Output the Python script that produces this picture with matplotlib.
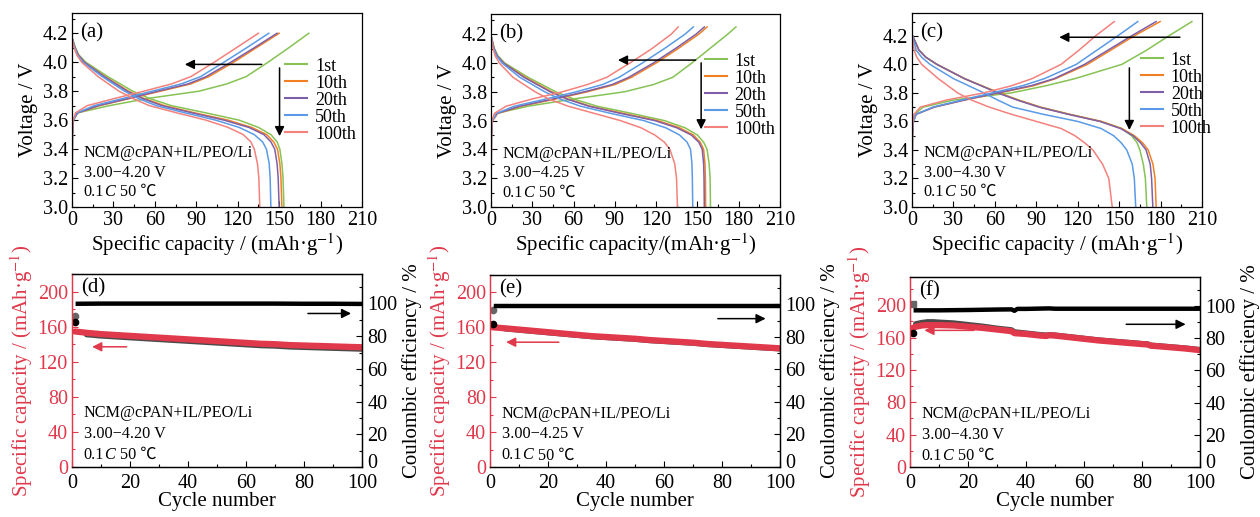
import matplotlib.pyplot as plt
from matplotlib.ticker import MultipleLocator
from matplotlib.lines import Line2D
from matplotlib.offsetbox import TextArea, HPacker, VPacker, AnnotationBbox
from matplotlib.transforms import ScaledTranslation

plt.rcParams['font.family'] = ['Liberation Serif', 'DejaVu Serif', 'DejaVu Sans']
plt.rcParams['mathtext.fontset'] = 'stix'
plt.rcParams['xtick.direction'] = 'in'
plt.rcParams['ytick.direction'] = 'in'
plt.rcParams['axes.linewidth'] = 0.9

# ---- charge / discharge curves (top row) ----
labels = ['1st', '10th', '20th', '50th', '100th']
colors = ['#86c254', '#f28022', '#7e5fa8', '#5a9ae6', '#f3817c']

# discharge: capacity at which each voltage is reached
dis_v = [4.1, 4.05, 4.0, 3.9, 3.8, 3.75, 3.7, 3.65, 3.6, 3.55, 3.5, 3.45, 3.4, 3.3, 3.2, 3.0]
dis_a = [[2.5, 5, 10, 26, 44, 56, 72, 97, 121, 135, 144, 148.5, 150.5, 152, 152.8, 153.5],
         [2.2, 4.5, 9, 24, 41, 52, 67, 89, 113, 130, 141, 146, 148.8, 150.5, 151.3, 152],
         [2.2, 4.5, 9, 23.5, 40, 51, 65, 87, 110, 128, 139, 144, 146.8, 148.5, 149.3, 150],
         [2, 4, 8, 22, 38, 48, 61, 82, 104, 121, 132, 138, 140.8, 142.8, 143.5, 144],
         [1.5, 3.5, 7, 19, 34, 44, 56, 76, 97, 113, 124, 129.5, 132, 134.3, 135.3, 136]]
dis_b = [[2.5, 5, 10, 27, 47, 60, 77, 102, 126, 141, 150, 154.5, 157, 158.5, 159.2, 159.5],
         [2.2, 4.5, 9, 25, 44, 56, 72, 96, 121, 137, 147, 152, 154.5, 155.5, 155.8, 156],
         [2.2, 4.5, 9, 24, 43, 55, 71, 94, 119, 135, 145.5, 151, 153.5, 154.5, 154.8, 155],
         [2, 4, 8, 21, 39, 50, 65, 87, 111, 127, 137, 142.5, 145, 146, 146.3, 146.6],
         [1.5, 3, 6, 16, 32, 42, 56, 75, 94, 109, 119, 126, 130, 133.5, 134.8, 135.5]]
dis_c = [[5, 10, 18, 38, 63, 77, 93, 114, 137, 152, 159, 163, 165, 167.5, 169, 170],
         [5, 10, 18, 38, 63, 77, 93, 114, 137, 152, 161, 167, 171, 174.5, 176, 176.8],
         [5, 10, 18, 38, 62, 76, 92, 113, 136, 151, 160, 165.5, 169.5, 172.5, 173.5, 174.4],
         [3, 7, 13, 30, 52, 62, 73, 95, 120, 137, 146, 151.5, 155.5, 159.5, 161, 162],
         [1.5, 3.5, 7, 19, 33, 43, 56, 72, 90, 108, 118, 125, 131, 138, 142.5, 145]]
dis_start = [4.17, 4.19, 4.21]

# charge: capacity at which each voltage is reached
chg_v_a = [3.0, 3.5, 3.6, 3.65, 3.7, 3.75, 3.8, 3.85, 3.9, 4.0, 4.1, 4.2]
chg_a = [[0, 0.3, 1, 4, 27, 55, 92, 112, 126, 142, 157, 171.5],
         [0, 0.3, 1, 4, 20, 42, 64, 86, 99, 117, 133.5, 150],
         [0, 0.3, 1, 4, 19, 41, 62, 84, 97, 115, 132, 148.5],
         [0, 0.3, 1, 3.5, 16, 37, 58, 79, 93, 110, 126.5, 142.5],
         [0, 0.3, 0.8, 2.5, 11, 31, 52, 72, 86, 103, 119, 135]]
chg_v_b = [3.0, 3.5, 3.6, 3.65, 3.7, 3.75, 3.8, 3.85, 3.9, 4.0, 4.1, 4.2, 4.25]
chg_b = [[0, 0.3, 1, 4, 27, 60, 97, 118, 132, 146, 159, 172, 178],
         [0, 0.3, 1, 5, 22, 47, 70, 90, 102, 120, 136, 151, 157],
         [0, 0.3, 1, 4.5, 21, 45, 68, 88, 100, 118, 134, 149, 155],
         [0, 0.3, 1, 4, 17, 40, 62, 81, 93, 110, 126, 141, 147],
         [0, 0.3, 0.8, 2.5, 11, 30, 52, 70, 84, 101, 117, 131, 136]]
chg_v_c = [3.0, 3.5, 3.6, 3.65, 3.7, 3.75, 3.8, 3.85, 3.9, 4.0, 4.1, 4.2, 4.3]
chg_c = [[0, 0.3, 0.8, 2, 8, 30, 72, 97, 118, 152, 170, 186, 202.7],
         [0, 0.3, 1, 3, 16, 38, 63, 88, 104, 127, 144, 161, 179.7],
         [0, 0.3, 1, 3, 16, 38, 62, 86, 103, 125, 142, 159, 176.8],
         [0, 0.3, 1, 3, 15, 36, 58, 80, 96, 119, 134, 149, 163.5],
         [0, 0.3, 0.7, 1.5, 6, 25, 52, 72, 87, 108, 121, 133, 146.5]]

windows = ['3.00\u22124.20 V', '3.00\u22124.25 V', '3.00\u22124.30 V']

# ---- cycling (bottom row) ----
cyc_de = [1, 5, 10, 15, 20, 25, 30, 35, 40, 45, 50, 55, 60, 65, 70, 75, 80, 85, 90, 95, 100]
dchg_d = [154.5, 153, 151.5, 150.5, 149.5, 148.5, 147.5, 146.5, 145.5, 144.5, 143.5,
          142.5, 141.5, 140.5, 140, 139, 138.5, 138, 137.5, 137, 136.5]
chg_d = [152.5, 151, 149.5, 148.5, 147.5, 146.5, 145.5, 144.5, 143.5, 142.5, 141.5,
         140.5, 139.5, 138.5, 138, 137, 136.5, 136, 135.5, 135, 134.5]
dchg_e = [160, 159, 157.5, 156, 154.5, 153, 151.5, 150, 149, 148, 147,
          145.5, 144.5, 143.5, 142.5, 141, 140, 139, 138, 137, 136]
chg_e = [159.5, 158.5, 157, 155.5, 154, 152.5, 151, 149.5, 148.5, 147.5, 146.5,
         145, 144, 143, 142, 140.5, 139.5, 138.5, 137.5, 136.5, 135.5]
cyc_f = [1, 2, 4, 6, 8, 10, 15, 20, 25, 30, 35, 36, 40, 45, 47, 48, 50, 55, 60, 65,
         70, 75, 80, 82, 83, 85, 90, 95, 100]
dchg_f = [172, 173.5, 175, 175.5, 175.5, 175.5, 175, 173.5, 172, 170, 168, 165.5, 164.5,
          162.5, 162, 163, 162.5, 160.5, 158.5, 156.5, 155, 153.5, 152, 151.5, 150,
          149.5, 148, 146.5, 144.5]
chg_f = [175, 177, 178.5, 179.5, 179.5, 179, 178, 176, 174, 171.5, 169.5, 167, 165.5,
         163.5, 163, 163.5, 163, 161, 159, 157, 155.5, 154, 152.5, 152, 150.5,
         150, 148.5, 147, 145]
first_chg = [172, 180, 202]
first_ce = [88.6, 88, 83.5]
ce_cyc = [2, 10, 20, 30, 35, 36, 37, 40, 48, 50, 60, 70, 80, 90, 100]
ce_d = [99.8, 99.9, 99.9, 99.9, 99.9, 99.9, 99.9, 99.9, 99.9, 99.9, 99.9, 99.9, 99.8, 99.8, 99.7]
ce_e = [99.0, 99.0, 99.0, 99.0, 99.0, 99.0, 99.0, 99.0, 99.0, 99.0, 99.0, 99.0, 99.0, 99.0, 99.0]
ce_f = [97.3, 97.3, 97.5, 97.8, 97.9, 97.0, 98.2, 98.2, 98.5, 98.3, 98.3, 98.3, 98.3, 98.3, 98.3]

red = '#e0394b'
fig = plt.figure(figsize=(12.6, 5.17), dpi=100)


def rect(l, r, t, b):
    return [l / 1260, 1 - b / 517, (r - l) / 1260, (b - t) / 517]


def cond_text(ax, x, y, window, sep):
    props = dict(fontsize=11.7, family=['Liberation Serif', 'DejaVu Sans'])
    l1 = TextArea('NCM@cPAN+IL/PEO/Li', textprops=props)
    l2 = TextArea(window, textprops=props)
    r1 = TextArea('0.1', textprops=props)
    r2 = TextArea('C', textprops=dict(props, style='italic'))
    r3 = TextArea('50\u00a0\u2103', textprops=dict(props, family=['Liberation Serif', 'Noto Sans CJK SC']))
    head = HPacker(children=[r1, r2], pad=0, sep=0, align='baseline')
    row = HPacker(children=[head, r3], pad=0, sep=3.5, align='baseline')
    box = VPacker(children=[l1, l2, row], pad=0, sep=sep, align='left')
    ab = AnnotationBbox(box, (x, y), xycoords='axes fraction', box_alignment=(0, 1),
                        frameon=False, pad=0)
    ax.add_artist(ab)


top_rects = [rect(72, 362, 13, 207), rect(491, 780, 14, 207), rect(912, 1202, 13, 207)]
bot_rects = [rect(72, 362, 274, 467), rect(490, 780, 275, 467), rect(910, 1200, 277, 467)]

dis_all = [dis_a, dis_b, dis_c]
chg_all = [chg_a, chg_b, chg_c]
chg_v_all = [chg_v_a, chg_v_b, chg_v_c]
ytops = [4.34, 4.34, 4.36]
tags = ['(a)', '(b)', '(c)']
xlabels = ['Specific capacity / (mAh\u00b7g$^{-1}$)', 'Specific capacity/(mAh\u00b7g$^{-1}$)',
           'Specific capacity / (mAh\u00b7g$^{-1}$)']
leg_anchor = [(0.735, 0.77), (0.74, 0.80), (0.79, 0.80)]
harrows = [((139.4, 3.985), (79.7, 3.985)), ((150.7, 4.02), (90.2, 4.02)), ((196, 4.19), (104.6, 4.19))]
varrows = [((150.3, 3.98), (150.3, 3.47)), ((152.7, 4.02), (152.7, 3.52)), ((157.4, 3.995), (157.4, 3.52))]

for i in range(3):
    ax = fig.add_axes(top_rects[i])
    for j in range(5):
        ax.plot(chg_all[i][j], chg_v_all[i], color=colors[j], lw=1.1)
        ax.plot([0] + dis_all[i][j], [dis_start[i]] + dis_v, color=colors[j], lw=1.1)
    ax.set_xlim(0, 210)
    ax.set_ylim(3.0, ytops[i])
    ax.xaxis.set_major_locator(MultipleLocator(30))
    ax.xaxis.set_minor_locator(MultipleLocator(15))
    ax.set_yticks([3.0, 3.2, 3.4, 3.6, 3.8, 4.0, 4.2])
    ax.set_yticklabels(['3.0', '3.2', '3.4', '3.6', '3.8', '4.0', '4.2'])
    ax.yaxis.set_minor_locator(MultipleLocator(0.1))
    ax.tick_params(labelsize=14.5, length=4, width=0.8, pad=3)
    ax.tick_params(which='minor', length=2.5, width=0.8)
    ax.set_xlabel(xlabels[i], fontsize=15, labelpad=1)
    ax.set_ylabel('Voltage / V', fontsize=15, labelpad=3)
    ax.text(0.028, 0.945, tags[i], transform=ax.transAxes, fontsize=15, va='top')
    cond_text(ax, 0.04, 0.318, windows[i], 2.5)
    handles = [Line2D([], [], color=c, lw=1.5) for c in colors]
    ax.legend(handles, labels, loc='upper left', bbox_to_anchor=leg_anchor[i], frameon=False,
              fontsize=13, handlelength=1.2, handletextpad=0.45, labelspacing=0.0,
              borderpad=0, borderaxespad=0)
    ax.annotate('', xy=harrows[i][1], xytext=harrows[i][0],
                arrowprops=dict(arrowstyle='-|>', color='k', lw=1.1, mutation_scale=14))
    ax.annotate('', xy=varrows[i][1], xytext=varrows[i][0],
                arrowprops=dict(arrowstyle='-|>', color='k', lw=1.1, mutation_scale=14))

dchg_all = [dchg_d, dchg_e, dchg_f]
cchg_all = [chg_d, chg_e, chg_f]
cyc_all = [cyc_de, cyc_de, cyc_f]
ce_all = [ce_d, ce_e, ce_f]
left_tops = [220, 220, 235]
btags = ['(d)', '(e)', '(f)']
first_mk = ['o', 'o', 's']
black_arrows = [((80.4, 175), (97.2, 175)), ((77.6, 170), (96, 170)), ((73.6, 176.5), (96, 176.5))]
red_arrows = [((19.8, 137), (6, 137)), ((24.7, 143), (4.6, 143)), ((23, 169), (4, 169))]

for i in range(3):
    ax = fig.add_axes(bot_rects[i])
    ax2 = ax.twinx()
    ax.plot(cyc_all[i][1:], cchg_all[i][1:], color='#4a4a4a', lw=4, solid_capstyle='round')
    ax.plot(cyc_all[i], dchg_all[i], color=red, lw=4.5, solid_capstyle='round')
    ax.plot([1], [first_chg[i]], marker=first_mk[i], color='#666666', ms=4.5, ls='none')
    ax2.plot(ce_cyc, ce_all[i], color='k', lw=3.2)
    ax2.plot([1], [first_ce[i]], marker='o', color='k', ms=4.5, ls='none')
    ax.set_xlim(0, 100)
    ax.set_ylim(0, left_tops[i])
    ax2.set_ylim(0, 118)
    ax.xaxis.set_major_locator(MultipleLocator(20))
    ax.xaxis.set_minor_locator(MultipleLocator(10))
    ax.set_yticks([0, 40, 80, 120, 160, 200])
    ax.yaxis.set_minor_locator(MultipleLocator(20))
    ax2.set_yticks([0, 20, 40, 60, 80, 100])
    ax2.yaxis.set_minor_locator(MultipleLocator(10))
    ax.tick_params(labelsize=14.5, length=4, width=0.8, pad=3)
    ax.tick_params(axis='x', pad=5)
    ax.tick_params(which='minor', length=2.5, width=0.8)
    ax.tick_params(axis='y', which='both', colors=red, labelcolor=red)
    ax2.tick_params(labelsize=14.5, length=4, width=0.8, pad=4)
    ax2.tick_params(which='minor', length=2.5, width=0.8)
    # lift the right-axis "0" a little, as in the original
    lab0 = ax2.yaxis.get_major_ticks()[0].label2
    lab0.set_transform(lab0.get_transform() + ScaledTranslation(0, 4 / 72, fig.dpi_scale_trans))
    ax.spines['left'].set_color(red)
    ax2.spines['left'].set_color(red)
    ax.set_xlabel('Cycle number', fontsize=15, labelpad=-1)
    ax.set_ylabel('Specific capacity / (mAh\u00b7g$^{-1}$)', fontsize=15, color=red, labelpad=2)
    ax2.set_ylabel('Coulombic efficiency / %', fontsize=15, labelpad=3)
    ax.text(0.03, 0.98, btags[i], transform=ax.transAxes, fontsize=15, va='top')
    cond_text(ax, 0.04, 0.32, windows[i], 3.5)
    ax.annotate('', xy=black_arrows[i][1], xytext=black_arrows[i][0],
                arrowprops=dict(arrowstyle='-|>', color='k', lw=1.1, mutation_scale=14))
    ax.annotate('', xy=red_arrows[i][1], xytext=red_arrows[i][0],
                arrowprops=dict(arrowstyle='-|>', color=red, lw=1.1, mutation_scale=14))

fig.savefig('out.png', dpi=100)
